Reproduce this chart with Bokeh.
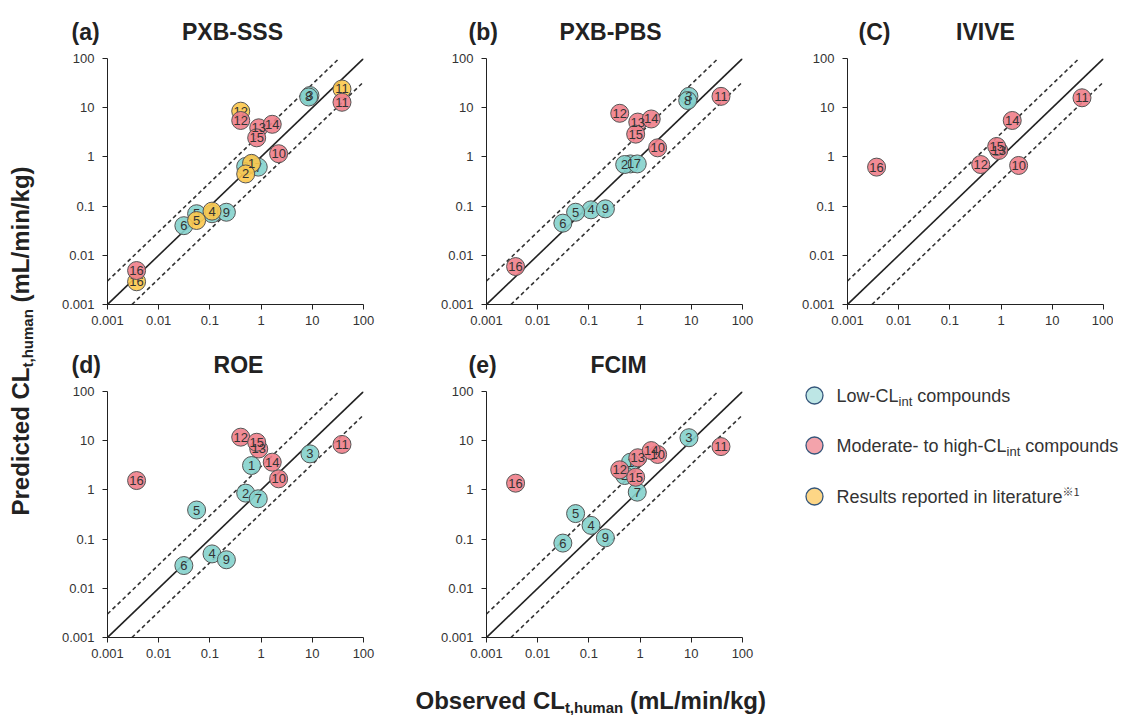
import math
from bokeh.plotting import figure
from bokeh.models import Range1d, FixedTicker, Label
from bokeh.layouts import row, column
from bokeh.embed import file_html
from bokeh.resources import INLINE
from bokeh.core.properties import value

# ---------------- data ----------------
compound_ids = list(range(1, 17))
observed = [0.65, 0.50, 9.0, 0.11, 0.055, 0.031, 0.88, 8.5, 0.21,
            2.2, 38.0, 0.40, 0.90, 1.65, 0.82, 0.0037]

low_ids = [1, 2, 3, 4, 5, 6, 7, 8, 9]
high_ids = [10, 11, 12, 13, 14, 15, 16]

# (a) PXB-SSS
sss_low = [0.70, 0.64, 17.7, 0.070, 0.070, 0.040, 0.62, 16.5, 0.075]
sss_high = [1.16, 12.9, 5.5, 3.9, 4.6, 2.44, 0.0049]
sss_lit_ids = [1, 2, 4, 5, 11, 12, 16]
sss_lit = [0.74, 0.45, 0.079, 0.051, 24.0, 8.5, 0.0029]

# (b) PXB-PBS
pbs_low = [0.72, 0.70, 17.0, 0.084, 0.075, 0.045, 0.72, 14.0, 0.088]
pbs_high = [1.53, 17.0, 7.7, 5.1, 5.9, 2.9, 0.0059]

# (C) IVIVE
ivive_high = [0.67, 15.9, 0.70, 1.35, 5.5, 1.63, 0.62]

# (d) ROE
roe_low_ids = [1, 2, 3, 4, 5, 6, 7, 9]
roe_low = [3.13, 0.86, 5.4, 0.050, 0.39, 0.029, 0.66, 0.038]
roe_high = [1.68, 8.4, 11.8, 6.8, 3.66, 9.3, 1.55]

# (e) FCIM
fcim_low_ids = [1, 2, 3, 4, 5, 6, 7, 9]
fcim_low = [3.66, 1.96, 11.5, 0.19, 0.33, 0.083, 0.90, 0.106]
fcim_high = [5.25, 7.6, 2.56, 4.5, 6.3, 1.81, 1.37]

axis_min, axis_max = 0.001, 100.0
fold = 3.0
tick_values = [0.001, 0.01, 0.1, 1, 10, 100]
tick_labels = ["0.001", "0.01", "0.1", "1", "10", "100"]

panel_tags = ["(a)", "(b)", "(C)", "(d)", "(e)"]
panel_names = ["PXB-SSS", "PXB-PBS", "IVIVE", "ROE", "FCIM"]

legend_labels = [("Low-CL", "int", " compounds"),
                 ("Moderate- to high-CL", "int", " compounds"),
                 ("Results reported in literature", "※1", "")]

# ---------------- styling ----------------
FONT = "Liberation Sans"
C_LOW = "#84d2cc"
C_HIGH = "#f07e89"
C_LIT = "#fcc84c"
C_EDGE = "#555555"
L_LOW = "#bde6e5"
L_HIGH = "#f3a3ab"
L_LIT = "#fdd686"
L_EDGE = "#34557a"

REG = {' ': 278, '-': 333, ',': 278, '.': 278, '/': 278, '(': 333, ')': 333,
       'C': 722, 'L': 556, 'M': 833, 'R': 722, 'a': 556, 'c': 500, 'd': 556,
       'e': 556, 'g': 556, 'h': 556, 'i': 222, 'l': 222, 'm': 833, 'n': 556,
       'o': 556, 'p': 556, 'r': 333, 's': 500, 't': 278, 'u': 556, 'w': 722,
       'k': 500}
BOLD = {' ': 278, '(': 333, ')': 333, '/': 278, ',': 278, 'C': 722, 'L': 611,
        'O': 778, 'P': 667, 'a': 556, 'b': 611, 'c': 556, 'd': 611, 'e': 556,
        'g': 611, 'h': 611, 'i': 278, 'k': 556, 'm': 889, 'n': 611, 'r': 389,
        's': 556, 't': 333, 'u': 611, 'v': 556}


def text_width(s, size, bold):
    table = BOLD if bold else REG
    return sum(table.get(c, 556) for c in s) / 1000.0 * size


def rich(p, x, y, parts, rotated=False, color="#222222"):
    """parts: (text, size, bold, shift_down_of_middle, font); y = middle line"""
    pos = 0.0
    for text, size, bold, shift, font in parts:
        stripped = text.lstrip(" ")
        pos += text_width(text[:len(text) - len(stripped)], size, bold)
        if stripped:
            if rotated:
                lx, ly, ang = x + shift, y + pos, math.pi / 2
            else:
                lx, ly, ang = x + pos, y - shift, 0.0
            p.add_layout(Label(x=lx, y=ly, text=stripped, angle=ang,
                               text_font=font, text_font_size=f"{size}px",
                               text_font_style="bold" if bold else "normal",
                               text_color=color, text_align="left",
                               text_baseline="middle"))
        pos += text_width(stripped, size, bold)


obs = dict(zip(compound_ids, observed))


def add_group(p, ids, preds, fill):
    xs = [obs[i] for i in ids]
    p.scatter(xs, preds, marker="circle", size=18, fill_color=fill,
              fill_alpha=0.9, line_color=C_EDGE, line_width=1)
    p.text(xs, preds, text=[str(i) for i in ids], text_align="center",
           text_baseline="middle", text_font=value(FONT),
           text_font_size="13px", text_color="#333333")


def panel(w, h, bl, br, bt, bb):
    p = figure(width=w, height=h, x_axis_type="log", y_axis_type="log",
               x_range=Range1d(axis_min, axis_max),
               y_range=Range1d(axis_min, axis_max),
               output_backend="svg", toolbar_location=None,
               min_border_left=bl, min_border_right=br,
               min_border_top=bt, min_border_bottom=bb)
    p.frame_align = False
    p.grid.grid_line_color = None
    p.outline_line_color = None
    for ax in (p.xaxis[0], p.yaxis[0]):
        ax.ticker = FixedTicker(ticks=tick_values)
        ax.major_label_overrides = {v: s for v, s in zip(tick_values, tick_labels)}
        ax.minor_tick_line_color = None
        ax.major_tick_in = 0
        ax.major_tick_out = 5
        ax.axis_line_color = "#222222"
        ax.major_tick_line_color = "#222222"
        ax.major_label_text_font = FONT
        ax.major_label_text_font_size = "13px"
        ax.major_label_text_color = "#333333"
    p.xaxis.major_label_standoff = 6
    p.yaxis.major_label_standoff = 8
    # reference lines: unity and fold-error bounds
    p.line([axis_min, axis_max], [axis_min, axis_max], line_color="#222222", line_width=1.6)
    p.line([axis_min, axis_max / fold], [axis_min * fold, axis_max],
           line_color="#333333", line_width=1.6, line_dash="4 3")
    p.line([axis_min * fold, axis_max], [axis_min, axis_max / fold],
           line_color="#333333", line_width=1.6, line_dash="4 3")
    return p


def blank(w, h):
    p = figure(width=w, height=h, x_range=Range1d(0, w), y_range=Range1d(0, h),
               output_backend="svg", toolbar_location=None, min_border=0,
               x_axis_location=None, y_axis_location=None)
    p.frame_align = False
    p.grid.grid_line_color = None
    p.outline_line_color = None
    return p


def title_strip(h, tags, names, tag_x, name_cx, mid_y):
    s = blank(1065, h)
    for t, n, tx, nx in zip(tags, names, tag_x, name_cx):
        s.add_layout(Label(x=tx, y=mid_y, text=t, text_font=FONT,
                           text_font_size="23px", text_font_style="bold",
                           text_color="#222222", text_baseline="middle"))
        s.add_layout(Label(x=nx, y=mid_y, text=n, text_font=FONT,
                           text_font_size="23px", text_font_style="bold",
                           text_color="#222222", text_align="center",
                           text_baseline="middle"))
    return s


H1, H2 = 290, 284
fa = panel(380, H1, 59, 65, 8, 36)
add_group(fa, low_ids, sss_low, C_LOW)
add_group(fa, sss_lit_ids, sss_lit, C_LIT)
add_group(fa, high_ids, sss_high, C_HIGH)

fb = panel(370, H1, 58, 56, 8, 36)
add_group(fb, low_ids, pbs_low, C_LOW)
add_group(fb, high_ids, pbs_high, C_HIGH)

fc = panel(315, H1, 46, 10, 8, 36)
add_group(fc, high_ids, ivive_high, C_HIGH)

fd = panel(380, H2, 59, 65, 8, 30)
add_group(fd, roe_low_ids, roe_low, C_LOW)
add_group(fd, high_ids, roe_high, C_HIGH)

fe = panel(370, H2, 58, 56, 8, 30)
add_group(fe, fcim_low_ids, fcim_low, C_LOW)
add_group(fe, high_ids, fcim_high, C_HIGH)

# panel titles (strip x origin = 48 px)
strip1 = title_strip(50, panel_tags[:3], panel_names[:3], [23, 420, 810], [184, 562, 937], 19)
strip2 = title_strip(43, panel_tags[3:], panel_names[3:], [23, 420], [190, 570], 19)

# legend panel
leg = blank(329, H2)
leg_fills = [L_LOW, L_HIGH, L_LIT]
leg_y = [272, 222, 171]
leg.scatter([16, 16, 16], leg_y, marker="circle", size=17, fill_color=leg_fills,
            line_color=L_EDGE, line_width=1.3)
for (main, sub, rest), yy in zip(legend_labels, leg_y):
    if sub == "int":
        parts = [(main, 18, False, 0, FONT), (sub, 13, False, 5.5, FONT), (rest, 18, False, 0, FONT)]
    else:
        parts = [(main, 18, False, 0, FONT), (sub, 11, False, -6, "Noto Sans CJK JP")]
    rich(leg, 38, yy, parts, color="#333333")

# axis titles
ylab = blank(48, 715)
rich(ylab, 20, 200,
     [("Predicted CL", 24, True, 0, FONT), ("t,human", 15, True, 7, FONT),
      (" (mL/min/kg)", 24, True, 0, FONT)], rotated=True)

xlab = blank(1065, 48)
rich(xlab, 367, 15,
     [("Observed CL", 24, True, 0, FONT), ("t,human", 15, True, 7, FONT),
      (" (mL/min/kg)", 24, True, 0, FONT)])

layout = row(ylab, column(strip1, row(fa, fb, fc), strip2, row(fd, fe, leg), xlab))

open("out.html", "w").write(file_html(layout, INLINE))
